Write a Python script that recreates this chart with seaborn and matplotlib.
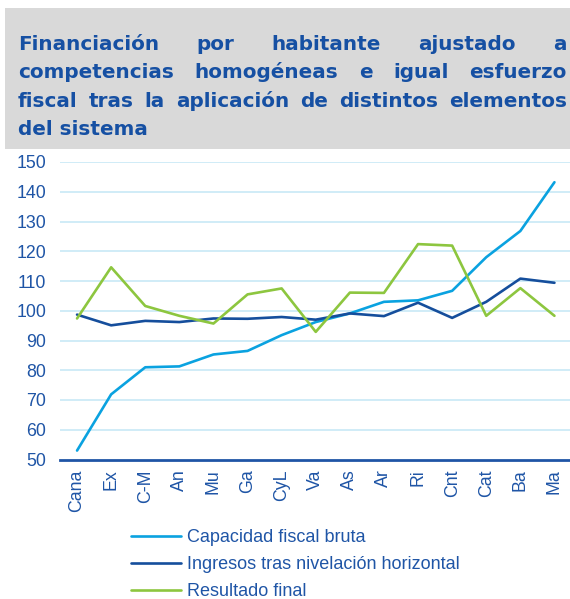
import matplotlib
matplotlib.use("Agg")
import matplotlib.pyplot as plt
import seaborn as sns
import pandas as pd
from matplotlib.patches import Rectangle
from matplotlib.lines import Line2D

# ---- data ----
categories = ['Cana', 'Ex', 'C-M', 'An', 'Mu', 'Ga', 'CyL', 'Va', 'As', 'Ar', 'Ri', 'Cnt', 'Cat', 'Ba', 'Ma']
capacidad = [53.0, 71.9, 81.0, 81.3, 85.3, 86.5, 91.8, 96.2, 99.1, 103.0, 103.5, 106.7, 118.0, 126.8, 143.2]
ingresos = [98.7, 95.1, 96.6, 96.2, 97.4, 97.3, 97.9, 97.0, 99.1, 98.2, 102.7, 97.6, 103.0, 110.8, 109.4]
resultado = [97.4, 114.6, 101.6, 98.3, 95.7, 105.5, 107.5, 92.9, 106.1, 106.0, 122.4, 121.9, 98.3, 107.6, 98.3]
series_names = ['Capacidad fiscal bruta', 'Ingresos tras nivelación horizontal', 'Resultado final']
yticks = [50, 60, 70, 80, 90, 100, 110, 120, 130, 140, 150]
title_lines = [
    "Financiación por habitante ajustado a",
    "competencias homogéneas e igual esfuerzo",
    "fiscal tras la aplicación de distintos elementos",
    "del sistema",
]

colors = ['#0AA2E0', '#154E9C', '#8DC63F']
text_blue = '#1F55A6'
title_blue = '#1650A3'
grid_col = '#CDEAF7'

W, H = 570, 599
DPI = 100

df = pd.DataFrame({
    'cat': categories * 3,
    'pos': list(range(len(categories))) * 3,
    'value': capacidad + ingresos + resultado,
    'serie': [series_names[0]] * len(categories) + [series_names[1]] * len(categories)
             + [series_names[2]] * len(categories),
})

sns.set_style("white")
plt.rcParams['font.family'] = ['Liberation Sans', 'DejaVu Sans']

fig = plt.figure(figsize=(W / DPI, H / DPI), dpi=DPI)

def px(x0, y0, x1, y1):
    return [x0 / W, 1 - y1 / H, (x1 - x0) / W, (y1 - y0) / H]

ax = fig.add_axes(px(60, 162, 571.5, 459.5))
ax.set_facecolor('none')

sns.lineplot(data=df, x='pos', y='value', hue='serie', palette=colors, ax=ax,
             linewidth=1.9, legend=False, sort=False)

ax.set_xlim(-0.5, len(categories) - 0.5)
ax.set_ylim(50, 150)
ax.set_yticks(yticks)
ax.set_yticklabels([str(t) for t in yticks])
ax.set_xticks(range(len(categories)))
ax.set_xticklabels(categories, rotation=90)
ax.set_xlabel('')
ax.set_ylabel('')

# grid
for t in yticks[1:]:
    ax.axhline(t, color=grid_col, lw=1.3, zorder=0)

for s in ['top', 'right', 'left']:
    ax.spines[s].set_visible(False)
ax.spines['bottom'].set_color(text_blue)
ax.spines['bottom'].set_linewidth(2.0)

# minor ticks at category boundaries
ax.set_xticks([i - 0.5 for i in range(len(categories) + 1)], minor=True)
ax.tick_params(axis='x', which='minor', direction='out', length=4.5, width=1.6,
               color=text_blue)
ax.tick_params(axis='x', which='major', length=0, pad=7, labelsize=12.8,
               labelcolor=text_blue)
ax.tick_params(axis='y', length=0, pad=10, labelsize=12.8, labelcolor=text_blue)

# ---- title box ----
fig.patches.append(Rectangle((5 / W, 1 - 149 / H), (W - 5) / W, (149 - 8) / H,
                             transform=fig.transFigure, facecolor='#D9D9D9',
                             edgecolor='none', zorder=0))

baselines = [50, 78.3, 106.7, 135]
left_px, right_px = 18, 567
title_kw = dict(fontsize=14.4, fontweight='bold', color=title_blue,
                family=['DejaVu Sans'], va='baseline', ha='left')
renderer = fig.canvas.get_renderer()
for li, (line, yb) in enumerate(zip(title_lines, baselines)):
    words = line.split(' ')
    if li == len(title_lines) - 1:
        fig.text(left_px / W, 1 - yb / H, line, **title_kw)
        continue
    tobjs = [fig.text(0, 1 - yb / H, w, **title_kw) for w in words]
    widths = [t.get_window_extent(renderer).width for t in tobjs]
    gap = (right_px - left_px - sum(widths)) / (len(words) - 1)
    x = left_px
    for t, wd in zip(tobjs, widths):
        t.set_x(x / W)
        x += wd + gap

# ---- legend ----
handles = [Line2D([0], [0], color=c, lw=1.9) for c in colors]
fig.legend(handles, series_names, loc='upper left',
           bbox_to_anchor=(131 / W, 1 - 529 / H), frameon=False,
           fontsize=13, labelcolor=text_blue, handlelength=2.75,
           handletextpad=0.35, labelspacing=0.56, borderpad=0,
           borderaxespad=0)

fig.savefig('out.png', dpi=DPI)
